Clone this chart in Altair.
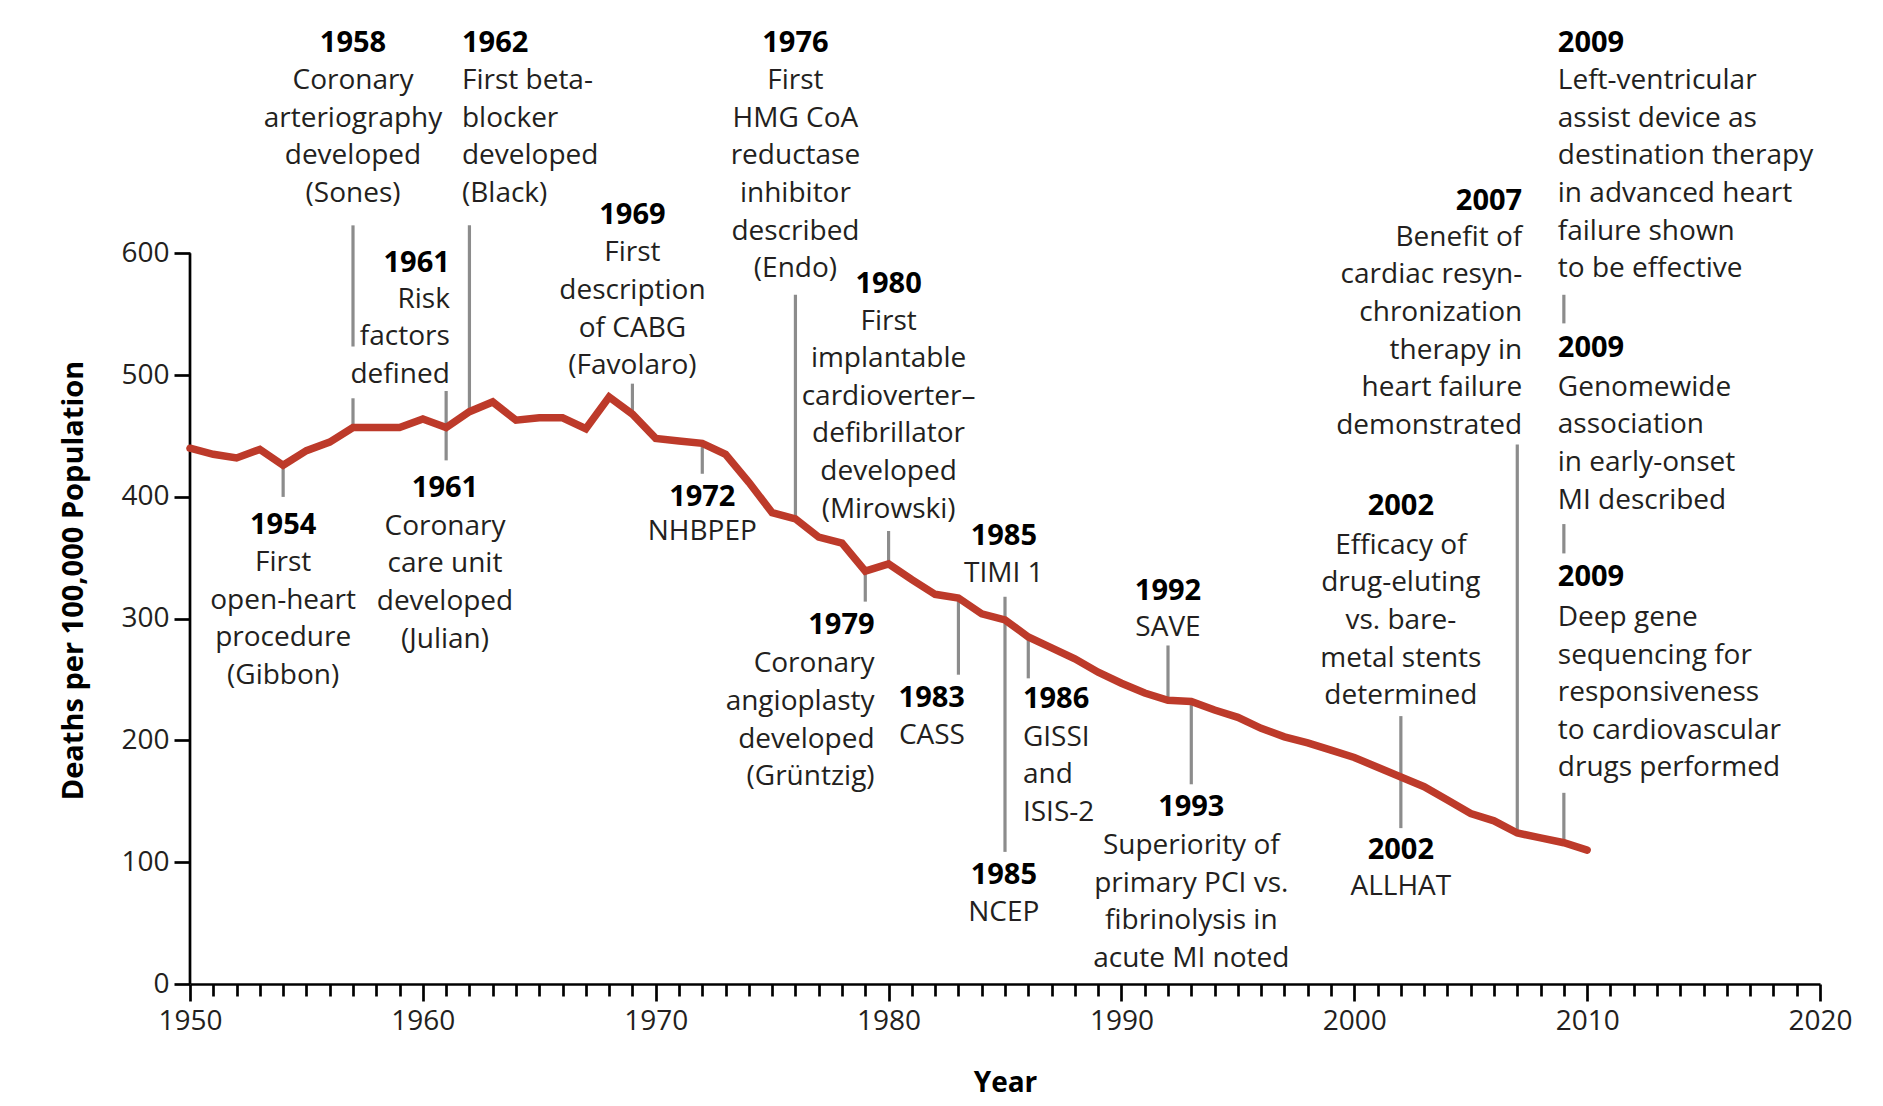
import altair as alt
import pandas as pd

FONT = "Open Sans"

# ---- mortality series (deaths per 100,000) ----
years = list(range(1950, 2011))
deaths = [440, 435, 432, 439, 426, 438, 445, 457, 457, 457,
          464, 457, 470, 478, 463, 465, 465, 456, 482, 468,
          448, 446, 444, 435, 412, 387, 382, 367, 362, 339,
          345, 332, 320, 317, 304, 299, 285, 276, 267, 256,
          247, 239, 233, 232, 225, 219, 210, 203, 198, 192,
          186, 178, 170, 162, 151, 140, 134, 124, 120, 116, 110]

# ---- annotation blocks: anchor year, alignment, bold year, its height, text lines, first line height ----
blocks = [
    (1954.0, "center", "1954", 376.8, ["First", "open-heart", "procedure", "(Gibbon)"], 345.8),
    (1957.0, "center", "1958", 772.7, ["Coronary", "arteriography", "developed", "(Sones)"], 741.5),
    (1961.16, "right", "1961", 592.4, ["Risk", "factors", "defined"], 562.0),
    (1960.95, "center", "1961", 407.6, ["Coronary", "care unit", "developed", "(Julian)"], 375.5),
    (1961.68, "left", "1962", 772.7, ["First beta-", "blocker", "developed", "(Black)"], 741.5),
    (1969.0, "center", "1969", 631.9, ["First", "description", "of CABG", "(Favolaro)"], 600.0),
    (1972.0, "center", "1972", 400.3, ["NHBPEP"], 371.1),
    (1976.0, "center", "1976", 772.7, ["First", "HMG CoA", "reductase", "inhibitor", "described", "(Endo)"], 741.5),
    (1980.0, "center", "1980", 574.7, ["First", "implantable", "cardioverter\u2013", "defibrillator", "developed", "(Mirowski)"], 544.0),
    (1979.4, "right", "1979", 295.2, ["Coronary", "angioplasty", "developed", "(Gr\u00fcntzig)"], 262.5),
    (1983.28, "right", "1983", 234.9, ["CASS"], 203.8),
    (1984.95, "center", "1985", 368.1, ["TIMI 1"], 336.5),
    (1984.95, "center", "1985", 89.5, ["NCEP"], 58.5),
    (1985.77, "left", "1986", 234.0, ["GISSI", "and", "ISIS-2"], 202.2),
    (1992.0, "center", "1992", 322.8, ["SAVE"], 292.6),
    (1993.0, "center", "1993", 145.1, ["Superiority of", "primary PCI vs.", "fibrinolysis in", "acute MI noted"], 113.3),
    (2002.0, "center", "2002", 392.9, ["Efficacy of", "drug-eluting", "vs. bare-", "metal stents", "determined"], 359.9),
    (2002.0, "center", "2002", 110.2, ["ALLHAT"], 80.0),
    (2007.21, "right", "2007", 643.1, ["Benefit of", "cardiac resyn-", "chronization", "therapy in", "heart failure", "demonstrated"], 612.9),
    (2008.74, "left", "2009", 772.7, ["Left-ventricular", "assist device as", "destination therapy", "in advanced heart", "failure shown", "to be effective"], 741.5),
    (2008.74, "left", "2009", 522.0, ["Genomewide", "association", "in early-onset", "MI described"], 489.7),
    (2008.74, "left", "2009", 333.9, ["Deep gene", "sequencing for", "responsiveness", "to cardiovascular", "drugs performed"], 300.6),
]

# ---- gray connector rules: year, from, to ----
rule_x = [1954, 1957, 1957, 1961, 1962, 1969, 1972, 1976, 1979, 1980, 1983, 1985, 1986, 1992, 1993, 2002, 2007, 2009, 2009, 2009]
rule_lo = [400, 523.5, 457, 430, 470, 468, 419, 382, 314, 345, 254, 108.5, 251, 233, 164, 128, 124, 542.5, 353.6, 116]
rule_hi = [426, 623, 481, 487, 623, 493, 444, 566, 339, 372, 318, 318, 285, 278, 232, 220, 443, 566, 377.7, 157]

LINE_GAP = 30.9

rows = []
for x, align, yr, yy, lines, fy in blocks:
    rows.append(dict(x=x, y=yy, t=yr, align=align, bold=True))
    for i, ln in enumerate(lines):
        rows.append(dict(x=x, y=fy - i * LINE_GAP, t=ln, align=align, bold=False))
ann = pd.DataFrame(rows)

df_line = pd.DataFrame({"x": years, "y": deaths})
df_rules = pd.DataFrame({"x": rule_x, "y": rule_lo, "y2": rule_hi})
df_yaxis = pd.DataFrame({"x": [1950], "y": [0], "y2": [600]})

xs = alt.Scale(domain=[1950, 2020], nice=False, zero=False)
ys = alt.Scale(domain=[0, 790], nice=False, zero=True)

xaxis = alt.Axis(
    values=list(range(1950, 2021)), format="d",
    labelExpr="datum.value % 10 === 0 ? datum.label : ''",
    tickSize={"condition": {"test": "datum.value % 10 === 0", "value": 17}, "value": 12},
    tickWidth=2.7, tickColor="black", domainColor="black", domainWidth=2.7,
    labelFont=FONT, labelFontSize=28, labelColor="#231f20", labelPadding=6,
    labelFlush=False, labelOverlap=False, labelBound=False, grid=False,
    title="Year", titleFont=FONT, titleFontSize=28, titleFontWeight="bold",
    titleColor="black", titlePadding=34,
)
yaxis = alt.Axis(
    values=[0, 100, 200, 300, 400, 500, 600], domain=False,
    tickSize=16, tickWidth=2.7, tickColor="black",
    labelFont=FONT, labelFontSize=28, labelColor="#231f20", labelPadding=5,
    grid=False,
    title="Deaths per 100,000 Population", titleFont=FONT, titleFontSize=29,
    titleFontWeight="bold", titleColor="black", titlePadding=32, titleY=558,
)


def X(field="x"):
    return alt.X(f"{field}:Q", scale=xs, axis=xaxis)


def Y(field="y"):
    return alt.Y(f"{field}:Q", scale=ys, axis=yaxis)


yline = alt.Chart(df_yaxis).mark_rule(color="black", strokeWidth=2.7).encode(
    x=X(), y=Y(), y2="y2:Q",
)
rules = alt.Chart(df_rules).mark_rule(color="#8c8c8c", strokeWidth=3.2).encode(
    x=X(), y=Y(), y2="y2:Q",
)
line = alt.Chart(df_line).mark_line(color="#bd3a2a", strokeWidth=7.5, strokeCap="round").encode(
    x=X(), y=Y(),
)


def text_layer(align, bold):
    d = ann[(ann["align"] == align) & (ann["bold"] == bold)][["x", "y", "t"]]
    return alt.Chart(d).mark_text(
        align=align, baseline="middle", font=FONT,
        fontSize=29 if bold else 28,
        fontWeight="bold" if bold else "normal",
        color="#000000" if bold else "#231f20",
    ).encode(
        x=X(), y=Y(), text="t:N",
    )


texts = [text_layer(a, b) for a in ["left", "center", "right"] for b in [True, False]]

chart = alt.layer(yline, rules, line, *texts).properties(
    width=1630, height=962,
    padding={"left": 182, "top": 14, "right": 45, "bottom": 116},
    autosize=alt.AutoSizeParams(type="none"),
    background="white",
).configure_view(stroke=None)

chart.save("out.html", embed_options={"renderer": "svg", "actions": False})
